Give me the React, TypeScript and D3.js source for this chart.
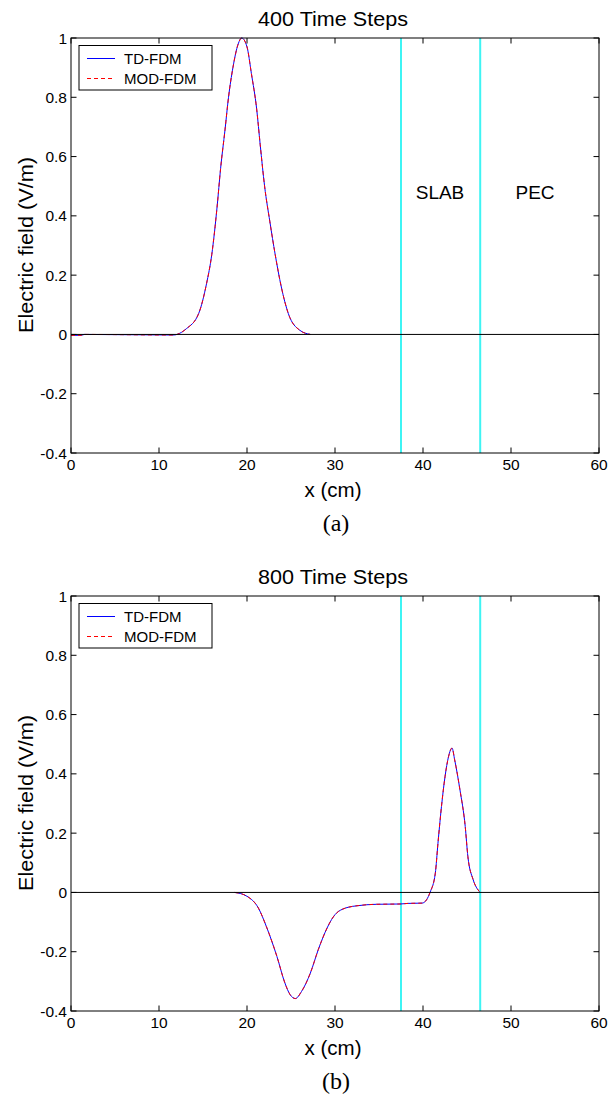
import React from "react";
import * as d3 from "d3";

// ---- data ----
const xTicks = [0, 10, 20, 30, 40, 50, 60];
const yTicks = [-0.4, -0.2, 0, 0.2, 0.4, 0.6, 0.8, 1];
const seriesNames = ["TD-FDM", "MOD-FDM"];
const titles = ["400 Time Steps", "800 Time Steps"];
const captions = ["(a)", "(b)"];
const regionNames = ["SLAB", "PEC"];
const slabX = 37.5;
const pecX = 46.5;

// 400 time steps: x (cm), field (V/m)
const x400 = [0, 1.2, 1.5, 11.6, 13.1, 14.5, 15.4, 16.0, 16.6, 17.0, 17.5, 17.9, 18.4, 19.0, 19.4, 20.0, 20.5, 21.1, 21.5, 22.0, 22.6, 23.2, 23.9, 24.7, 26.0, 27.2];
const e400 = [-0.003, -0.003, 0, -0.002, 0.019, 0.07, 0.171, 0.27, 0.43, 0.56, 0.69, 0.8, 0.9, 0.98, 1.0, 0.97, 0.88, 0.76, 0.64, 0.5, 0.38, 0.27, 0.16, 0.07, 0.014, 0];

// 800 time steps
const x800 = [18.6, 20.0, 21.3, 22.2, 23.4, 24.3, 24.9, 25.5, 26.2, 27.2, 28.1, 29.1, 29.6, 30.0, 30.4, 30.9, 31.5, 32.5, 34.7, 37.4, 38.3, 39.9, 40.4, 40.8, 41.4, 41.7, 42.1, 42.5, 42.9, 43.3, 43.6, 44.2, 44.8, 45.1, 45.7, 46.4];
const e800 = [0, -0.013, -0.053, -0.115, -0.216, -0.305, -0.345, -0.358, -0.334, -0.272, -0.193, -0.12, -0.092, -0.075, -0.064, -0.056, -0.05, -0.045, -0.04, -0.039, -0.037, -0.036, -0.025, 0, 0.065, 0.166, 0.29, 0.39, 0.458, 0.487, 0.447, 0.346, 0.222, 0.121, 0.043, 0.003];

const panels = [
  { title: titles[0], caption: captions[0], xs: x400, ys: e400, regions: true },
  { title: titles[1], caption: captions[1], xs: x800, ys: e800, regions: false },
];

const FONT = "'Liberation Sans', Arial, sans-serif";

function fmt(v: number) {
  const r = Math.round(v * 10) / 10;
  return String(r);
}

function Panel({ p, offset }: { p: any; offset: number }) {
  const left = 71, right = 599, top = 38, bottom = 453;
  const x = d3.scaleLinear().domain([0, 60]).range([left, right]);
  const y = d3.scaleLinear().domain([-0.4, 1]).range([bottom, top]);
  const pts: [number, number][] = p.xs.map((v: number, i: number) => [v, p.ys[i]]);
  const line = d3
    .line<[number, number]>()
    .x((d) => x(d[0]))
    .y((d) => y(d[1]))
    .curve(d3.curveMonotoneX);
  const path = line(pts) || "";
  const tl = 5.5;
  return (
    <g transform={`translate(0,${offset})`}>
      {/* cyan boundaries */}
      {[slabX, pecX].map((v) => (
        <line key={v} x1={x(v)} x2={x(v)} y1={top} y2={bottom} stroke="#3ff4f4" strokeWidth={2} />
      ))}
      {/* curves */}
      <path d={path} fill="none" stroke="#0000ff" strokeWidth={1} />
      <path d={path} fill="none" stroke="#ff0000" strokeWidth={1} strokeDasharray="4,3" />
      {/* zero line */}
      <line x1={x(0)} x2={x(60)} y1={y(0)} y2={y(0)} stroke="#000" strokeWidth={1} />
      {/* axes box */}
      <rect x={left} y={top} width={right - left} height={bottom - top} fill="none" stroke="#000" strokeWidth={1} />
      {xTicks.map((t) => (
        <g key={"x" + t}>
          <line x1={x(t)} x2={x(t)} y1={bottom} y2={bottom - tl} stroke="#000" />
          <line x1={x(t)} x2={x(t)} y1={top} y2={top + tl} stroke="#000" />
          <text x={x(t)} y={470} textAnchor="middle" fontSize={15.5} fontFamily={FONT} fill="#000">
            {fmt(t)}
          </text>
        </g>
      ))}
      {yTicks.map((t) => (
        <g key={"y" + t}>
          <line x1={left} x2={left + tl} y1={y(t)} y2={y(t)} stroke="#000" />
          <line x1={right} x2={right - tl} y1={y(t)} y2={y(t)} stroke="#000" />
          <text x={67} y={y(t) + 5.5} textAnchor="end" fontSize={15.5} fontFamily={FONT} fill="#000">
            {fmt(t)}
          </text>
        </g>
      ))}
      {/* title */}
      <text x={333} y={26} textAnchor="middle" fontSize={20} fontFamily={FONT} fill="#000" textLength={150} lengthAdjust="spacingAndGlyphs">
        {p.title}
      </text>
      {/* axis labels */}
      <text x={333} y={497} textAnchor="middle" fontSize={20} fontFamily={FONT} fill="#000" textLength={57} lengthAdjust="spacingAndGlyphs">
        x (cm)
      </text>
      <text
        transform={`translate(33,245) rotate(-90)`}
        textAnchor="middle"
        fontSize={21}
        fontFamily={FONT}
        fill="#000"
        textLength={176}
        lengthAdjust="spacingAndGlyphs"
      >
        Electric field (V/m)
      </text>
      {/* region labels */}
      {p.regions && (
        <g>
          <text x={440} y={199} textAnchor="middle" fontSize={19} fontFamily={FONT} fill="#000">{regionNames[0]}</text>
          <text x={535} y={199} textAnchor="middle" fontSize={19} fontFamily={FONT} fill="#000">{regionNames[1]}</text>
        </g>
      )}
      {/* legend */}
      <rect x={79} y={45.5} width={133} height={44.5} fill="#fff" stroke="#000" strokeWidth={1} />
      <line x1={87} x2={115} y1={58.5} y2={58.5} stroke="#0000ff" strokeWidth={1} />
      <line x1={87} x2={115} y1={78.5} y2={78.5} stroke="#ff0000" strokeWidth={1} strokeDasharray="4,3" />
      <text x={124} y={64} fontSize={15} fontFamily={FONT} fill="#000">{seriesNames[0]}</text>
      <text x={124} y={83.5} fontSize={15} fontFamily={FONT} fill="#000">{seriesNames[1]}</text>
      {/* caption */}
      <text x={336} y={531} textAnchor="middle" fontSize={24} fontFamily="'Liberation Serif', 'Times New Roman', serif" fill="#000">
        {p.caption}
      </text>
    </g>
  );
}

export default function App() {
  return (
    <svg width={608} height={1099} style={{ position: "absolute", left: 0, top: 0, background: "#fff" }}>
      <rect width={608} height={1099} fill="#fff" />
      {panels.map((p, i) => (
        <Panel key={i} p={p} offset={i * 558} />
      ))}
    </svg>
  );
}
